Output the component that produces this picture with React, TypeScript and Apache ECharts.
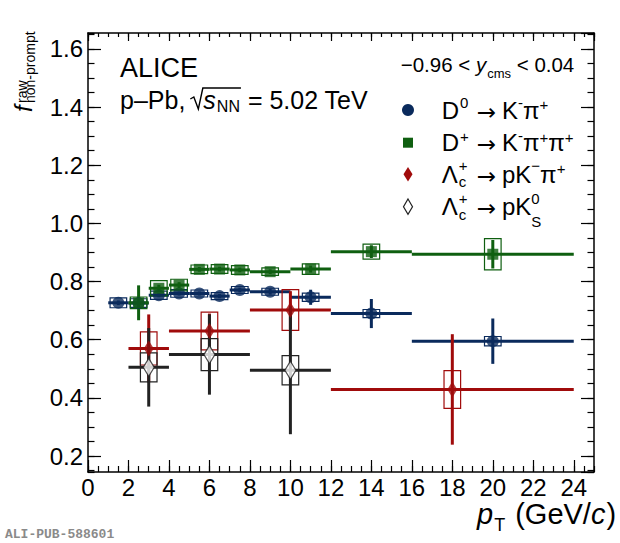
import { useEffect, useRef } from 'react'
import * as echarts from 'echarts'

// D0 -> K- pi+  (bin centre, half width, value, stat, syst)
const d0X = [1.5, 2.5, 3.5, 4.5, 5.5, 6.5, 7.5, 9, 11, 14, 20]
const d0XErr = [0.5, 0.5, 0.5, 0.5, 0.5, 0.5, 0.5, 1, 1, 2, 4]
const d0Y = [0.727, 0.726, 0.753, 0.759, 0.759, 0.75, 0.771, 0.765, 0.746, 0.69, 0.595]
const d0Stat = [0.008, 0.008, 0.007, 0.007, 0.007, 0.007, 0.008, 0.01, 0.026, 0.05, 0.078]
const d0Syst = [0.017, 0.015, 0.014, 0.013, 0.012, 0.012, 0.012, 0.012, 0.014, 0.014, 0.016]

// D+ -> K- pi+ pi+
const dpX = [2.5, 3.5, 4.5, 5.5, 6.5, 7.5, 9, 11, 14, 20]
const dpXErr = [0.5, 0.5, 0.5, 0.5, 0.5, 0.5, 1, 1, 2, 4]
const dpY = [0.727, 0.777, 0.788, 0.842, 0.843, 0.84, 0.834, 0.843, 0.903, 0.894]
const dpStat = [0.06, 0.012, 0.01, 0.008, 0.008, 0.008, 0.008, 0.012, 0.022, 0.049]
const dpSyst = [0.02, 0.026, 0.02, 0.015, 0.015, 0.015, 0.013, 0.018, 0.026, 0.054]

// Lambda_c+ -> p K- pi+
const lcX = [3, 6, 10, 18]
const lcXErr = [1, 2, 2, 6]
const lcY = [0.57, 0.63, 0.702, 0.429]
const lcStat = [0.117, 0.06, 0.065, 0.19]
const lcSyst = [0.057, 0.065, 0.07, 0.065]

// Lambda_c+ -> p K0S
const lkX = [3, 6, 10]
const lkXErr = [1, 2, 2]
const lkY = [0.505, 0.549, 0.495]
const lkStat = [0.135, 0.138, 0.22]
const lkSyst = [0.05, 0.055, 0.05]

const xTickLabels = ['0', '2', '4', '6', '8', '10', '12', '14', '16', '18', '20', '22', '24']
const yTickLabels = ['0.2', '0.4', '0.6', '0.8', '1.0', '1.2', '1.4', '1.6']

const NAVY = '#0a2a5c'
const GREEN = '#0f5f10'
const RED = '#a00b0b'
const BLACK = '#222222'
const FONT = '"Liberation Sans", Arial, "DejaVu Sans", sans-serif'
const ARROW_FONT = '"DejaVu Sans", sans-serif'
const BOX_HALF = 0.41
// quarter turn counter-clockwise (plus whole turns)
const QUARTER = Math.PI / 2 + 28 * Math.PI

let measureCtx: CanvasRenderingContext2D | null = null
function textWidth(t: string, size: number, italic = false, font = FONT) {
  if (!measureCtx) measureCtx = document.createElement('canvas').getContext('2d')
  measureCtx!.font = `${italic ? 'italic ' : ''}${size}px ${font}`
  return measureCtx!.measureText(t).width
}

type Piece = {
  t: string
  size: number
  dy?: number
  italic?: boolean
  stay?: boolean
  gap?: number
  at?: number
  font?: string
}

// lay out a run of text pieces on one baseline (rotated: reads bottom to top)
function run(start: number, baseline: number, pieces: Piece[], rotated = false, color = '#000') {
  const out: any[] = []
  let pos = start
  let held = 0
  pieces.forEach(p => {
    if (p.at !== undefined) pos = p.at
    const font = p.font || FONT
    const w = textWidth(p.t, p.size, p.italic, font)
    const b = baseline + (p.dy || 0) - 0.3465 * p.size
    const style = {
      text: p.t,
      fontSize: p.size,
      fontFamily: font,
      fontStyle: p.italic ? 'italic' : 'normal',
      fill: color,
      align: 'left',
      verticalAlign: 'middle'
    }
    if (rotated) {
      out.push({ type: 'text', x: b, y: pos, rotation: QUARTER, style, silent: true })
    } else {
      out.push({ type: 'text', x: pos, y: b, style, silent: true })
    }
    if (p.stay) {
      held = Math.max(held, w)
    } else {
      pos += (rotated ? -1 : 1) * (Math.max(w, held) + (p.gap || 0))
      held = 0
    }
  })
  return out
}

function errorSeries(xs: number[], xe: number[], ys: number[], st: number[], sy: number[], color: string) {
  return {
    type: 'custom',
    xAxisIndex: 0,
    yAxisIndex: 0,
    encode: { x: 0, y: 1 },
    data: xs.map((x, i) => [x, ys[i], xe[i], st[i], sy[i]]),
    renderItem: (_params: any, api: any) => {
      const x = api.value(0)
      const y = api.value(1)
      const ex = api.value(2)
      const es = api.value(3)
      const eb = api.value(4)
      const l = api.coord([x - ex, y])
      const r = api.coord([x + ex, y])
      const t = api.coord([x, y + es])
      const b = api.coord([x, y - es])
      const bl = api.coord([x - BOX_HALF, y - eb])
      const tr = api.coord([x + BOX_HALF, y + eb])
      return {
        type: 'group',
        children: [
          {
            type: 'rect',
            shape: { x: bl[0], y: tr[1], width: tr[0] - bl[0], height: bl[1] - tr[1] },
            style: { fill: 'none', stroke: color, lineWidth: 1.2 }
          },
          { type: 'line', shape: { x1: l[0], y1: l[1], x2: r[0], y2: r[1] }, style: { stroke: color, lineWidth: 3 } },
          { type: 'line', shape: { x1: t[0], y1: t[1], x2: b[0], y2: b[1] }, style: { stroke: color, lineWidth: 3 } }
        ]
      }
    }
  }
}

function markerSeries(xs: number[], ys: number[], symbol: string, size: any, itemStyle: any) {
  return {
    type: 'scatter',
    xAxisIndex: 0,
    yAxisIndex: 0,
    data: xs.map((x, i) => [x, ys[i]]),
    symbol,
    symbolSize: size,
    itemStyle
  }
}

function xAxis(position: string, interval: number, len: number, main: boolean) {
  return {
    type: 'value',
    position,
    min: 0,
    max: 25,
    interval,
    axisLine: { show: main, onZero: false, lineStyle: { color: '#000', width: 1.5 } },
    axisTick: { inside: true, length: len, lineStyle: { color: '#000', width: 1.2 } },
    axisLabel: {
      show: main && position === 'bottom',
      showMaxLabel: false,
      margin: 3,
      fontSize: 24,
      fontFamily: FONT,
      color: '#000',
      formatter: (v: number) => xTickLabels.find(s => Number(s) === v) ?? ''
    },
    splitLine: { show: false }
  }
}

function yAxis(position: string, splitNumber: number, len: number, main: boolean) {
  return {
    type: 'value',
    position,
    min: 0.145,
    max: 1.655,
    splitNumber,
    axisLine: { show: main, onZero: false, lineStyle: { color: '#000', width: 1.5 } },
    axisTick: { inside: true, length: len, lineStyle: { color: '#000', width: 1.2 } },
    axisLabel: {
      show: main && position === 'left',
      showMinLabel: false,
      showMaxLabel: false,
      margin: 5,
      fontSize: 24,
      fontFamily: FONT,
      color: '#000',
      formatter: (v: number) => yTickLabels.find(s => Math.abs(Number(s) - v) < 1e-6) ?? ''
    },
    splitLine: { show: false }
  }
}

export default function App() {
  const chartRef = useRef<HTMLDivElement>(null)

  useEffect(() => {
    if (!chartRef.current) return
    const chart = echarts.init(chartRef.current, undefined, { renderer: 'svg' })

    const S = 24
    const s = 15
    const arrowX = 476.7
    const arrow = (next: number): Piece => ({ t: '→', size: 23, font: ARROW_FONT, at: arrowX, gap: next, dy: 1 })

    // sqrt(s_NN) geometry follows the measured text
    const L2 = 25
    const r0 = 120 + textWidth('p–Pb,', L2) + 5
    const sx = r0 + 13
    const nnEnd = sx + textWidth('s', L2, true) + 1 + textWidth('NN', 16)

    const graphics: any[] = [
      ...run(120, 77, [{ t: 'ALICE', size: 27 }]),
      ...run(120, 108.3, [
        { t: 'p–Pb,', size: L2 },
        { t: 's', size: L2, italic: true, gap: 1, at: sx },
        { t: 'NN', size: 16, dy: 4, gap: 1 },
        { t: ' = 5.02 TeV', size: L2 }
      ]),
      {
        type: 'polyline',
        shape: { points: [[r0, 99], [r0 + 3.5, 97], [r0 + 8, 109], [r0 + 12.5, 88], [nnEnd + 1, 88]] },
        style: { stroke: '#000', lineWidth: 1.4, fill: 'none' },
        silent: true
      },
      ...run(400.7, 71.7, [
        { t: '−0.96 < ', size: 20.5 },
        { t: 'y', size: 20.5, italic: true, gap: 1 },
        { t: 'cms', size: 13, dy: 6 },
        { t: ' < 0.04', size: 20.5 }
      ]),
      // legend rows
      ...run(441.7, 118.6, [
        { t: 'D', size: S, gap: 1 },
        { t: '0', size: s, dy: -11 },
        arrow(6),
        { t: 'K', size: S },
        { t: '-', size: s, dy: -11 },
        { t: 'π', size: S },
        { t: '+', size: s, dy: -9 }
      ]),
      ...run(441.7, 151.3, [
        { t: 'D', size: S, gap: 1 },
        { t: '+', size: s, dy: -10 },
        arrow(6),
        { t: 'K', size: S },
        { t: '-', size: s, dy: -11 },
        { t: 'π', size: S },
        { t: '+', size: s, dy: -9 },
        { t: 'π', size: S },
        { t: '+', size: s, dy: -9 }
      ]),
      ...run(441.7, 182.9, [
        { t: 'Λ', size: S, gap: 1 },
        { t: '+', size: s, dy: -12, stay: true },
        { t: 'c', size: s, dy: 4 },
        arrow(6),
        { t: 'pK', size: S },
        { t: '−', size: s, dy: -12 },
        { t: 'π', size: S },
        { t: '+', size: s, dy: -9 }
      ]),
      ...run(441.7, 215.3, [
        { t: 'Λ', size: S, gap: 1 },
        { t: '+', size: s, dy: -12, stay: true },
        { t: 'c', size: s, dy: 4 },
        arrow(6),
        { t: 'pK', size: S },
        { t: '0', size: s, dy: -12, stay: true },
        { t: 'S', size: s, dy: 11 }
      ]),
      { type: 'circle', shape: { cx: 408, cy: 110, r: 6 }, style: { fill: NAVY }, silent: true },
      { type: 'rect', shape: { x: 403, y: 137.7, width: 10, height: 10 }, style: { fill: GREEN }, silent: true },
      {
        type: 'polygon',
        shape: { points: [[408, 167], [412.5, 174.3], [408, 181.6], [403.5, 174.3]] },
        style: { fill: RED },
        silent: true
      },
      {
        type: 'polygon',
        shape: { points: [[408, 199], [412.5, 206.7], [408, 214.4], [403.5, 206.7]] },
        style: { fill: '#fff', stroke: BLACK, lineWidth: 1.2 },
        silent: true
      },
      // axis titles
      ...run(477, 524, [
        { t: 'p', size: 29, italic: true, gap: 1 },
        { t: 'T', size: 18, dy: 7, gap: 2 },
        { t: ' (GeV/', size: 29 },
        { t: 'c', size: 29, italic: true, gap: 1 },
        { t: ')', size: 29 }
      ]),
      ...run(112, 32, [{ t: 'f', size: 24, italic: true }], true),
      ...run(103, 26.7, [{ t: 'raw', size: 14 }], true),
      ...run(103, 35, [{ t: 'non-prompt', size: 14 }], true),
      {
        type: 'text',
        x: 5,
        y: 534,
        style: {
          text: 'ALI-PUB-588601',
          fontSize: 13,
          fontFamily: '"Liberation Mono", "DejaVu Sans Mono", monospace',
          fontWeight: 'bold',
          fill: '#8a8a8a',
          align: 'left',
          verticalAlign: 'middle'
        },
        silent: true
      }
    ]

    const option: any = {
      animation: false,
      backgroundColor: '#fff',
      grid: { left: 88, top: 33, width: 506, height: 439, containLabel: false },
      xAxis: [
        xAxis('bottom', 2, 12, true),
        xAxis('bottom', 0.5, 6, false),
        xAxis('top', 2, 8, true),
        xAxis('top', 0.5, 4, false)
      ],
      yAxis: [
        yAxis('left', 7, 13, true),
        yAxis('left', 30, 6.5, false),
        yAxis('right', 7, 13, true),
        yAxis('right', 30, 6.5, false)
      ],
      series: [
        errorSeries(d0X, d0XErr, d0Y, d0Stat, d0Syst, NAVY),
        markerSeries(d0X, d0Y, 'circle', 12, { color: NAVY }),
        errorSeries(dpX, dpXErr, dpY, dpStat, dpSyst, GREEN),
        markerSeries(dpX, dpY, 'rect', 11, { color: GREEN }),
        errorSeries(lcX, lcXErr, lcY, lcStat, lcSyst, RED),
        markerSeries(lcX, lcY, 'diamond', [10, 16], { color: RED }),
        errorSeries(lkX, lkXErr, lkY, lkStat, lkSyst, BLACK),
        markerSeries(lkX, lkY, 'diamond', [11, 18], { color: '#fff', borderColor: BLACK, borderWidth: 1.3 })
      ],
      graphic: graphics
    }

    chart.setOption(option)

    return () => {
      chart.dispose()
    }
  }, [])

  return (
    <div
      ref={chartRef}
      style={{ position: 'fixed', left: 0, top: 0, width: '620px', height: '543px', background: '#fff' }}
    />
  )
}
